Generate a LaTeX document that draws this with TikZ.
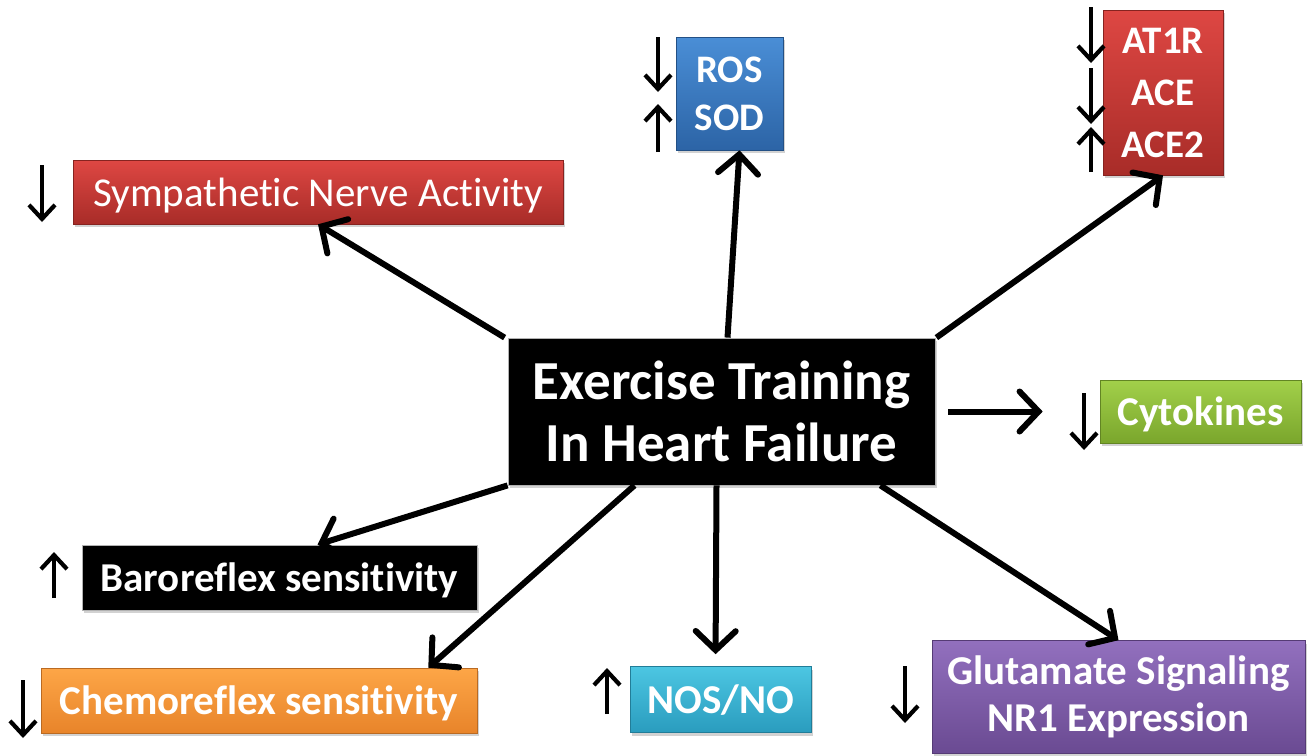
\documentclass[tikz,border=0pt]{standalone}
\usepackage{fontspec}
\setmainfont[Ligatures={NoCommon}]{Carlito}
\usetikzlibrary{arrows.meta,shadows,calc}
\definecolor{redT}{HTML}{DE4743}\definecolor{redB}{HTML}{A82C28}
\definecolor{bluT}{HTML}{4A8ED6}\definecolor{bluB}{HTML}{2C64A6}
\definecolor{grnT}{HTML}{A2D04A}\definecolor{grnB}{HTML}{7AA62C}
\definecolor{orgT}{HTML}{FDA647}\definecolor{orgB}{HTML}{E8842A}
\definecolor{cynT}{HTML}{4CC6E2}\definecolor{cynB}{HTML}{2A9CBE}
\definecolor{purT}{HTML}{9270BE}\definecolor{purB}{HTML}{6A4A92}
\newcommand\boxtxt[1]{\raisebox{-14pt}[0pt][0pt]{#1}}
\begin{document}
\begin{tikzpicture}[x=1pt,y=-1pt,
  box/.style={rectangle, inner sep=0pt, align=center, text=white,
    font=\bfseries\fontsize{41}{47}\selectfont,
    drop shadow={opacity=0.35,shadow xshift=2pt,shadow yshift=-3pt}},
  redbox/.style={box, top color=redT, bottom color=redB, draw=redB!80!black, line width=0.6pt},
  bluebox/.style={box, top color=bluT, bottom color=bluB, draw=bluB!80!black, line width=0.6pt},
  greenbox/.style={box, top color=grnT, bottom color=grnB, draw=grnB!80!black, line width=0.6pt},
  orangebox/.style={box, top color=orgT, bottom color=orgB, draw=orgB!80!black, line width=0.6pt},
  cyanbox/.style={box, top color=cynT, bottom color=cynB, draw=cynB!80!black, line width=0.6pt},
  purplebox/.style={box, top color=purT, bottom color=purB, draw=purB!80!black, line width=0.6pt},
  blackbox/.style={box, fill=black, draw=gray!60, line width=0.8pt},
  conn/.style={line width=6pt, -{Straight Barb[length=19pt,width=40pt,line cap=round]}},
  updown/.style={line width=4.2pt, -{Straight Barb[length=14pt,width=26pt]}}
]
\useasboundingbox[fill=white] (0,0) rectangle (1316,755);

% nodes
\node[blackbox, minimum width=427pt, minimum height=147pt,
      font=\bfseries\fontsize{55}{62}\selectfont] (c) at (721.5,411.5) {Exercise Training\\In Heart Failure};
\node[redbox, minimum width=490pt, minimum height=64pt,
      font=\fontsize{41}{48}\selectfont] (symp) at (318,192) {\boxtxt{Sympathetic Nerve Activity}};
\node[bluebox, minimum width=107pt, minimum height=113pt,
      font=\bfseries\fontsize{39}{48}\selectfont] (ros) at (729.5,93.5) {ROS\\SOD};
\node[redbox, minimum width=120pt, minimum height=165pt,
      font=\bfseries\fontsize{39}{52}\selectfont] (at) at (1163,92.5) {AT1R\\ACE\\ACE2};
\node[greenbox, minimum width=201pt, minimum height=63pt] (cyto) at (1200.5,411.5) {\boxtxt{Cytokines}};
\node[blackbox, minimum width=395pt, minimum height=65pt] (baro) at (279.5,577.5) {\boxtxt{Baroreflex sensitivity}};
\node[orangebox, minimum width=436pt, minimum height=65pt] (chemo) at (259,700.5) {\boxtxt{Chemoreflex sensitivity}};
\node[cyanbox, minimum width=181pt, minimum height=66pt] (nos) at (720.5,699.5) {\boxtxt{NOS/NO}};
\node[purplebox, minimum width=373pt, minimum height=113pt] (glut) at (1118.5,697) {Glutamate Signaling\\NR1 Expression};

% connectors
\draw[conn] ($(c.north west)+(-3,0)$) -- (symp.south);
\draw[conn] ($(c.north)+(6,0)$) -- ($(ros.south)+(10,0)$);
\draw[conn] ($(c.north east)+(1,0)$) -- (at.south);
\draw[conn, shorten <=13pt, shorten >=57pt] (c.east) -- (cyto.west);
\draw[conn] (c.south west) -- ($(baro.north)+(38,0)$);
\draw[conn] ($(c.south)+(-87,0)$) -- ($(chemo.north east)+(-49,0)$);
\draw[conn, shorten >=12pt] ($(c.south)+(-5,0)$) -- ($(nos.north)+(-5,0)$);
\draw[conn] ($(c.south east)+(-55,0)$) -- (glut.north);

% up/down marks
\draw[updown] (42,165) -- (42,222);
\draw[updown] (658,37) -- (658,92);
\draw[updown] (658,152) -- (658,104);
\draw[updown] (1091,7) -- (1091,63);
\draw[updown] (1091,68) -- (1091,124);
\draw[updown] (1091,172) -- (1091,127);
\draw[updown] (1084,393) -- (1084,450);
\draw[updown] (54,598) -- (54,552);
\draw[updown] (23,680) -- (23,738);
\draw[updown] (607,714) -- (607,668);
\draw[updown] (905,666) -- (905,723);
\end{tikzpicture}
\end{document}
